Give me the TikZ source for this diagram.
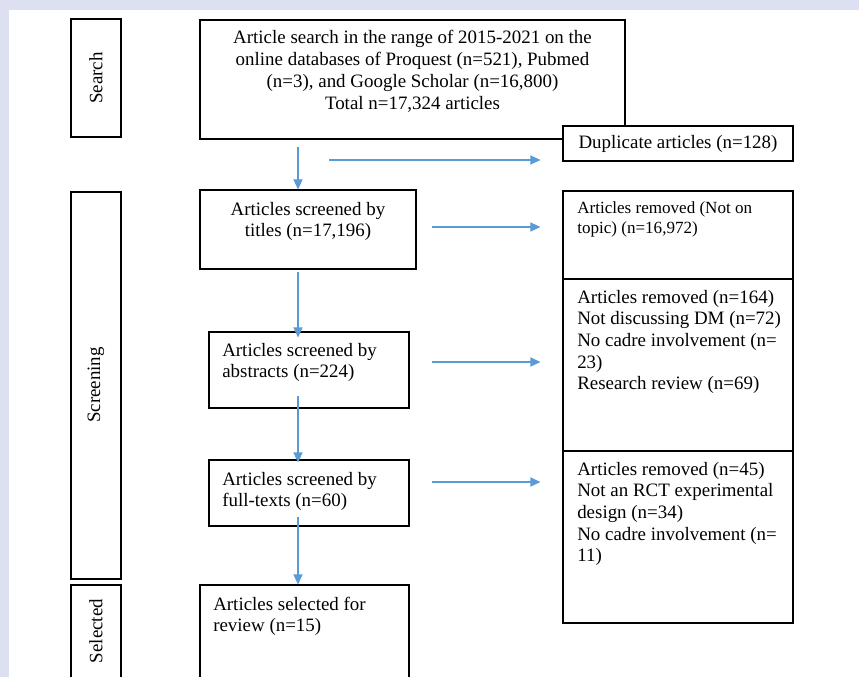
\documentclass[tikz,border=0pt]{standalone}
\usepackage{fontspec}
\setmainfont{Liberation Serif}
\usetikzlibrary{arrows.meta,fit}
\definecolor{bgcol}{RGB}{221,224,240}
\definecolor{arrblue}{RGB}{91,155,213}
\begin{document}
\begin{tikzpicture}[x=0.75pt,y=-0.75pt,
  box/.style={draw=black,line width=0.8pt,inner sep=0pt,fill=white},
  txt/.style={inner sep=0pt,font=\fontsize{14.2pt}{16.3pt}\selectfont},
  smalltxt/.style={inner sep=0pt,font=\fontsize{12.8pt}{15pt}\selectfont},
  arr/.style={draw=arrblue,line width=0.8pt,-{Triangle[length=7.5pt,width=6.75pt]}}]
\useasboundingbox (0,0) rectangle (859,677);
\fill[bgcol] (0,0) rectangle (859,677);
\fill[white] (9,10) rectangle (859,677);
\clip (0,0) rectangle (859,677);

% stage labels
\node[box,fit={(71,19) (121,137)}] (searchbox) {};
\node[box,fit={(71,192) (121,579)}] (screenbox) {};
\node[box,fit={(71,585) (121,682)}] (selbox) {};
\node[txt,rotate=90] (searchlbl) at (96,78) {Search};
\node[txt,rotate=90] (screenlbl) at (96,385) {Screening};
\node[txt,rotate=90] (sellbl) at (96,631) {Selected};

% main boxes
\node[box,fit={(200,20) (625,139)}] (top) {};
\node[box,fit={(563,126) (793,161)}] (dup) {};
\node[box,fit={(200,190) (416,269)}] (titles) {};
\node[box,fit={(563,191) (793,279)}] (rem1) {};
\node[box,fit={(563,279) (793,451)}] (rem2) {};
\node[box,fit={(563,451) (793,623)}] (rem3) {};
\node[box,fit={(209,332) (409,408)}] (abs) {};
\node[box,fit={(209,460) (409,526)}] (full) {};
\node[box,fit={(200,585) (409,682)}] (sel) {};

% texts
\node[txt,anchor=base,text width=318pt,align=flush center] (toptxt) at (412.5,44)
  {Article search in the range of 2015-2021 on the\\online databases of Proquest (n=521), Pubmed\\(n=3), and Google Scholar (n=16,800)\\Total n=17,324 articles};
\node[txt,anchor=base] (duptxt) at (678,149) {Duplicate articles (n=128)};
\node[txt,anchor=base,text width=160pt,align=flush center] (titlestxt) at (308,215)
  {Articles screened by\\titles (n=17,196)};
\node[smalltxt,anchor=base west,text width=165pt,align=flush left] (rem1txt) at (577,214)
  {Articles removed (Not on\\topic) (n=16,972)};
\node[txt,anchor=base west,text width=165pt,align=flush left] (rem2txt) at (577,303)
  {Articles removed (n=164)\\Not discussing DM (n=72)\\No cadre involvement (n=\\23)\\Research review (n=69)};
\node[txt,anchor=base west,text width=165pt,align=flush left] (rem3txt) at (577,475)
  {Articles removed (n=45)\\Not an RCT experimental\\design (n=34)\\No cadre involvement (n=\\11)};
\node[txt,anchor=base west,text width=140pt,align=flush left] (abstxt) at (222,356)
  {Articles screened by\\abstracts (n=224)};
\node[txt,anchor=base west,text width=140pt,align=flush left] (fulltxt) at (222,485)
  {Articles screened by\\full-texts (n=60)};
\node[txt,anchor=base west,text width=145pt,align=flush left] (seltxt) at (213,610)
  {Articles selected for\\review (n=15)};

% arrow start points
\coordinate (d1) at (298,147);
\coordinate (d2) at (298,272);
\coordinate (d3) at (298,396);
\coordinate (d4) at (298,517);
\coordinate (h1) at (329,160);
\coordinate (h2) at (432,227);
\coordinate (h3) at (432,362);
\coordinate (h4) at (432,482);

\draw[arr] (d1) -- (d1 |- titles.north);
\draw[arr,shorten >=-4.5pt] (d2) -- (d2 |- abs.north);
\draw[arr,shorten >=-2.25pt] (d3) -- (d3 |- full.north);
\draw[arr] (d4) -- (d4 |- sel.north);
\draw[arr,shorten >=16.5pt] (h1) -- (h1 -| dup.west);
\draw[arr,shorten >=16.5pt] (h2) -- (h2 -| rem1.west);
\draw[arr,shorten >=16.5pt] (h3) -- (h3 -| rem2.west);
\draw[arr,shorten >=16.5pt] (h4) -- (h4 -| rem3.west);
\end{tikzpicture}
\end{document}
